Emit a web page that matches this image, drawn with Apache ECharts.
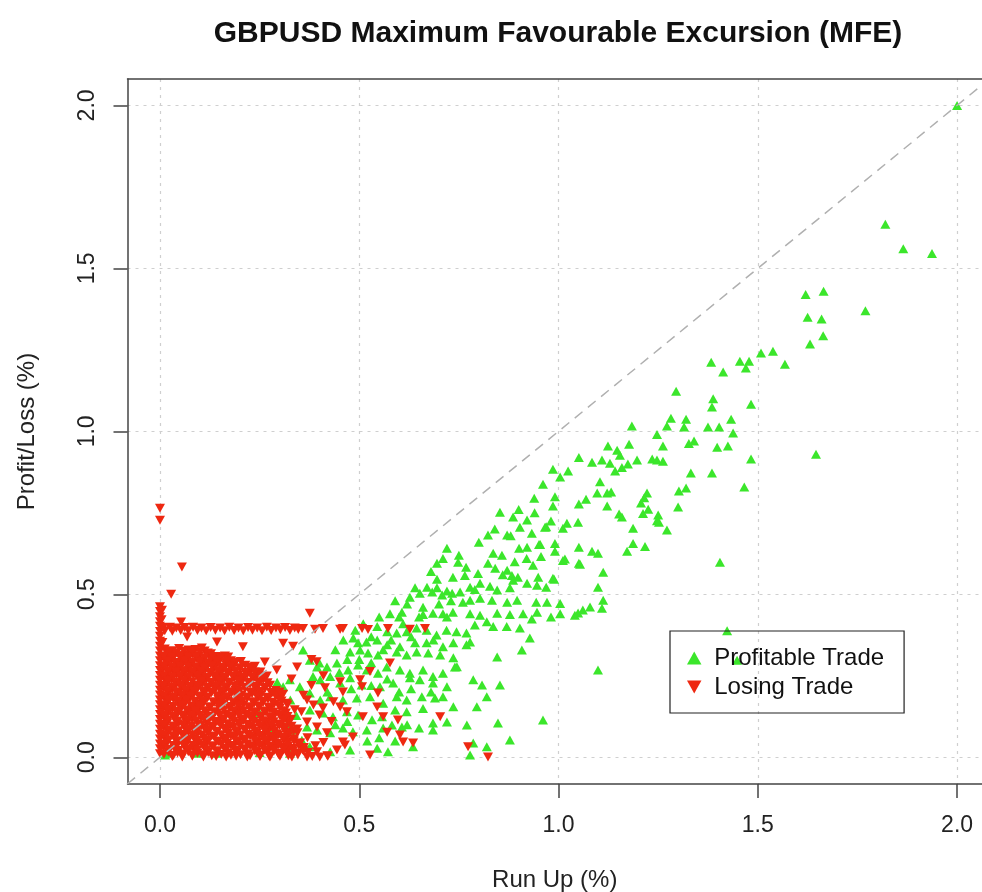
<!DOCTYPE html>
<html>
<head>
<meta charset="utf-8">
<script src="https://cdn.jsdelivr.net/npm/echarts@6.0.0/dist/echarts.min.js"></script>
<style>
html,body{margin:0;padding:0;background:#fff;}
#chart{width:982px;height:892px;}
</style>
</head>
<body>
<div id="chart"></div>
<script>
var chartTitle = 'GBPUSD Maximum Favourable Excursion (MFE)';
var xAxisTitle = 'Run Up (%)';
var yAxisTitle = 'Profit/Loss (%)';
var seriesNames = ['Profitable Trade', 'Losing Trade'];
var tickValues = [0, 0.5, 1, 1.5, 2];
var tickLabels = ['0.0', '0.5', '1.0', '1.5', '2.0'];
var xRange = [-0.0815, 2.0625];
var yRange = [-0.082, 2.081];
var diagonal = [[-0.082, -0.082], [2.0625, 2.0625]];

// Profitable trades: [run up %, profit %]
var profitable = [
[2.0,2.0],[1.82,1.635],[1.865,1.56],[1.937,1.546],[1.62,1.42],[1.665,1.43],[1.77,1.37],[1.625,1.35],[1.66,1.345],[1.664,1.293],
[1.631,1.268],[1.508,1.24],[1.538,1.246],[1.568,1.206],[1.383,1.212],[1.413,1.182],[1.455,1.215],[1.478,1.215],[1.47,1.194],[1.295,1.123],
[1.388,1.10],[1.385,1.075],[1.483,1.083],[1.282,1.04],[1.32,1.037],[1.272,1.016],[1.315,1.013],[1.375,1.013],[1.403,1.013],[1.433,1.037],
[1.438,0.995],[1.184,1.016],[1.247,0.99],[1.177,0.96],[1.262,0.955],[1.327,0.963],[1.34,0.97],[1.398,0.951],[1.425,0.955],[1.483,0.915],
[1.646,0.93],[1.124,0.955],[1.147,0.942],[1.154,0.927],[1.051,0.92],[1.084,0.905],[1.109,0.912],[1.129,0.902],[1.174,0.9],[1.197,0.912],
[1.235,0.915],[1.247,0.912],[1.262,0.908],[1.332,0.872],[1.385,0.872],[1.142,0.878],[0.986,0.884],[1.024,0.878],[1.004,0.86],[1.159,0.889],
[0.961,0.838],[0.939,0.795],[1.104,0.845],[1.097,0.811],[1.122,0.811],[1.132,0.814],[1.222,0.811],[1.215,0.796],[1.207,0.78],[1.302,0.817],
[1.32,0.826],[1.466,0.829],[0.991,0.799],[0.986,0.771],[1.069,0.792],[1.051,0.777],[1.122,0.771],[1.225,0.761],[1.25,0.743],[1.3,0.768],
[1.212,0.748],[1.152,0.746],[1.159,0.737],[1.252,0.721],[1.272,0.697],[1.187,0.703],[0.981,0.725],[0.969,0.707],[1.021,0.718],[1.049,0.721],
[1.011,0.703],[0.933,0.687],[0.954,0.653],[0.991,0.656],[0.991,0.632],[1.051,0.644],[1.084,0.632],[1.099,0.626],[1.187,0.656],[1.172,0.632],
[1.217,0.647],[0.956,0.616],[1.011,0.604],[1.051,0.595],[0.936,0.589],[0.949,0.552],[1.405,0.598],[1.112,0.568],[1.099,0.522],[0.969,0.522],
[0.989,0.546],[1.112,0.482],[1.109,0.457],[1.004,0.472],[0.944,0.476],[0.946,0.445],[1.049,0.443],[1.061,0.452],[0.981,0.43],[1.423,0.388],
[0.933,0.424],[1.448,0.298],[1.247,0.726],[0.853,0.752],[0.886,0.737],[0.921,0.728],[0.966,0.706],[0.823,0.682],[0.871,0.682],[0.903,0.706],
[0.72,0.641],[0.901,0.641],[0.921,0.644],[0.951,0.653],[0.836,0.626],[0.858,0.62],[1.016,0.608],[0.695,0.595],[0.748,0.598],[0.768,0.583],
[0.823,0.595],[0.841,0.58],[0.871,0.574],[0.883,0.558],[0.886,0.543],[0.898,0.552],[1.054,0.592],[0.798,0.564],[0.765,0.558],[0.735,0.552],
[0.695,0.546],[0.67,0.522],[0.72,0.51],[0.753,0.507],[0.778,0.522],[0.803,0.534],[0.828,0.525],[0.846,0.513],[0.921,0.534],[0.946,0.528],
[0.986,0.549],[0.627,0.491],[0.652,0.503],[0.683,0.507],[0.708,0.498],[0.733,0.503],[0.76,0.476],[0.778,0.482],[0.803,0.488],[0.833,0.482],
[0.871,0.476],[0.896,0.482],[0.971,0.476],[1.079,0.461],[0.577,0.44],[0.607,0.445],[0.66,0.438],[0.685,0.442],[0.71,0.44],[0.735,0.445],
[0.778,0.44],[0.803,0.436],[0.846,0.442],[0.878,0.438],[0.911,0.44],[1.004,0.44],[1.041,0.436],[0.695,0.52],[0.79,0.515],[0.878,0.52],
[0.6,0.43],[0.72,0.43],[0.545,0.401],[0.57,0.385],[0.594,0.381],[0.619,0.385],[0.644,0.397],[0.669,0.39],[0.694,0.375],[0.719,0.39],
[0.744,0.385],[0.769,0.381],[0.79,0.406],[0.82,0.416],[0.836,0.401],[0.87,0.401],[0.903,0.397],[0.928,0.366],[0.485,0.366],[0.497,0.351],
[0.518,0.354],[0.545,0.36],[0.57,0.345],[0.602,0.339],[0.64,0.351],[0.669,0.351],[0.686,0.36],[0.71,0.339],[0.736,0.351],[0.769,0.345],
[0.778,0.354],[0.477,0.323],[0.502,0.329],[0.522,0.32],[0.547,0.314],[0.594,0.323],[0.619,0.314],[0.644,0.323],[0.673,0.32],[0.703,0.314],
[0.736,0.305],[0.745,0.278],[0.846,0.308],[0.908,0.329],[0.359,0.329],[0.419,0.277],[0.444,0.289],[0.472,0.268],[0.497,0.283],[0.519,0.268],
[0.547,0.258],[0.569,0.277],[0.602,0.268],[0.627,0.258],[0.66,0.268],[0.685,0.248],[0.71,0.258],[0.74,0.277],[0.384,0.248],[0.402,0.238],
[0.427,0.248],[0.452,0.228],[0.477,0.244],[0.506,0.222],[0.552,0.216],[0.585,0.228],[0.627,0.244],[0.652,0.238],[0.685,0.228],[0.72,0.216],
[0.786,0.238],[0.808,0.222],[0.853,0.222],[0.961,0.114],[0.351,0.216],[0.376,0.197],[0.402,0.176],[0.427,0.186],[0.459,0.176],[0.494,0.182],
[0.527,0.186],[0.56,0.166],[0.594,0.186],[0.619,0.176],[0.657,0.186],[0.69,0.182],[0.71,0.186],[0.736,0.155],[0.795,0.155],[0.82,0.186],
[0.376,0.145],[0.409,0.136],[0.434,0.124],[0.469,0.14],[0.497,0.13],[0.532,0.115],[0.557,0.124],[0.59,0.145],[0.619,0.14],[0.685,0.105],
[0.72,0.108],[0.77,0.099],[0.848,0.105],[0.369,0.093],[0.394,0.084],[0.427,0.075],[0.459,0.09],[0.484,0.078],[0.519,0.084],[0.56,0.09],
[0.582,0.099],[0.607,0.093],[0.685,0.084],[0.786,0.044],[0.82,0.032],[0.878,0.053],[0.376,0.032],[0.427,0.017],[0.477,0.022],[0.545,0.028],
[0.572,0.017],[0.635,0.032],[0.778,0.007],[1.099,0.268],[0.013,0.007],[0.093,0.012],[0.143,0.012],[0.25,0.135],[0.268,0.104],[0.284,0.083],
[0.309,0.216],[0.326,0.238],[0.376,0.298],[0.394,0.277],[0.4,0.289],[0.25,0.015],[0.326,0.012],[0.327,0.176],[0.294,0.23],[0.342,0.128],
[0.318,0.098],[0.334,0.064],[0.356,0.052],[0.33,0.084],[0.018,0.012],
[0.46,0.36],[0.49,0.39],[0.51,0.41],[0.53,0.37],[0.55,0.43],[0.47,0.3],[0.5,0.3],[0.53,0.29],[0.56,0.33],[0.58,0.36],
[0.61,0.41],[0.63,0.37],[0.65,0.43],[0.44,0.33],[0.42,0.2],[0.45,0.26],[0.48,0.21],[0.53,0.22],[0.57,0.24],[0.6,0.2],
[0.63,0.21],[0.66,0.15],[0.68,0.2],[0.44,0.1],[0.47,0.11],[0.52,0.05],[0.55,0.06],[0.59,0.05],[0.62,0.1],[0.65,0.09],
[0.7,0.47],[0.73,0.48],[0.66,0.46],[0.62,0.47],[0.59,0.48],[0.64,0.52],[0.68,0.57],[0.71,0.61],[0.75,0.62],[0.8,0.66],
[0.84,0.7],[0.88,0.68],[0.9,0.76],[0.94,0.75],[0.92,0.61],[0.89,0.6],[0.86,0.56]
];

// Losing trades: [run up %, loss %]
var losing = [
[0,0.764],[0,0.727],[0.055,0.584],[0.028,0.5],[0.053,0.415],[0.376,0.442],[0.068,0.369],[0.143,0.354],[0.208,0.339],[0.105,0.335],
[0.309,0.35],[0.334,0.341],[0.171,0.308],[0.263,0.292],[0.293,0.268],[0.344,0.277],
[0,0.462],[0,0.447],[0,0.431],[0,0.416],[0,0.402],[0,0.386],[0,0.371],[0,0.356],[0,0.341],[0,0.326],[0,0.311],[0,0.296],[0,0.281],
[0,0.266],[0,0.251],[0,0.236],[0,0.221],[0,0.206],[0,0.191],[0,0.176],[0,0.161],[0,0.146],[0,0.131],[0,0.116],[0,0.101],[0,0.086],
[0,0.071],[0,0.056],[0,0.041],[0,0.026],[0,0.011],[0.005,0.451],[0.006,0.352],[0.004,0.422],
[0.008,0.398],[0.012,0.388],[0.025,0.399],[0.031,0.387],[0.041,0.397],[0.052,0.389],[0.062,0.398],[0.071,0.388],[0.083,0.399],[0.094,0.389],
[0.104,0.397],[0.116,0.388],[0.127,0.398],[0.139,0.39],[0.151,0.397],[0.162,0.388],[0.174,0.399],[0.186,0.389],[0.197,0.397],[0.209,0.388],
[0.221,0.398],[0.232,0.39],[0.244,0.397],[0.256,0.388],[0.268,0.399],[0.279,0.389],[0.291,0.397],[0.302,0.391],[0.314,0.398],[0.326,0.389],
[0.338,0.397],[0.347,0.392],[0.359,0.395],[0.389,0.393],[0.409,0.395],[0.452,0.393],[0.459,0.395],[0.507,0.395],[0.522,0.392],[0.572,0.395],
[0.627,0.393],[0.665,0.395],
[0.012,0.332],[0.031,0.327],[0.048,0.334],[0.071,0.329],[0.089,0.331],[0.112,0.326],[0.128,0.318],
[0.021,0.314],[0.039,0.318],[0.062,0.312],[0.081,0.316],[0.098,0.311],[0.122,0.313],[0.141,0.309],[0.163,0.311],
[0.011,0.301],[0.029,0.297],[0.052,0.302],[0.068,0.298],[0.091,0.303],[0.109,0.296],[0.131,0.299],[0.152,0.301],[0.178,0.296],[0.203,0.294],
[0.019,0.286],[0.042,0.283],[0.058,0.288],[0.079,0.284],[0.102,0.286],[0.118,0.281],[0.142,0.285],[0.166,0.283],[0.188,0.287],[0.214,0.282],[0.238,0.279],
[0.008,0.271],[0.032,0.268],[0.049,0.272],[0.072,0.266],[0.091,0.27],[0.114,0.268],[0.136,0.273],[0.157,0.267],[0.179,0.269],[0.201,0.271],[0.228,0.266],[0.252,0.262],
[0.022,0.256],[0.041,0.253],[0.061,0.257],[0.084,0.252],[0.104,0.255],[0.127,0.258],[0.149,0.253],[0.171,0.256],[0.196,0.251],[0.219,0.255],[0.243,0.252],[0.268,0.249],
[0.011,0.241],[0.029,0.238],[0.051,0.243],[0.069,0.239],[0.096,0.242],[0.116,0.237],[0.139,0.241],[0.161,0.238],[0.186,0.242],[0.208,0.236],[0.234,0.24],[0.259,0.237],
[0.018,0.226],[0.041,0.223],[0.064,0.227],[0.086,0.222],[0.106,0.225],[0.129,0.228],[0.151,0.223],[0.174,0.226],[0.199,0.221],[0.226,0.224],[0.249,0.227],[0.276,0.221],
[0.009,0.211],[0.031,0.208],[0.054,0.212],[0.076,0.207],[0.094,0.21],[0.121,0.213],[0.139,0.208],[0.166,0.211],[0.189,0.206],[0.214,0.21],[0.241,0.208],[0.264,0.212],[0.291,0.205],
[0.021,0.196],[0.044,0.193],[0.066,0.197],[0.084,0.192],[0.111,0.195],[0.129,0.198],[0.156,0.193],[0.179,0.196],[0.204,0.191],[0.231,0.195],[0.254,0.192],[0.281,0.197],[0.309,0.193],
[0.012,0.181],[0.034,0.178],[0.056,0.182],[0.074,0.177],[0.101,0.18],[0.119,0.183],[0.146,0.178],[0.169,0.181],[0.196,0.176],[0.219,0.18],[0.246,0.183],[0.271,0.178],[0.298,0.181],
[0.019,0.166],[0.046,0.163],[0.064,0.167],[0.091,0.162],[0.109,0.165],[0.136,0.168],[0.159,0.163],[0.186,0.166],[0.209,0.161],[0.236,0.165],[0.259,0.168],[0.286,0.162],[0.318,0.166],
[0.008,0.151],[0.031,0.148],[0.054,0.152],[0.081,0.147],[0.099,0.15],[0.126,0.153],[0.149,0.148],[0.176,0.151],[0.199,0.146],[0.226,0.15],[0.249,0.153],[0.276,0.148],[0.301,0.151],[0.338,0.146],
[0.021,0.136],[0.044,0.133],[0.071,0.137],[0.089,0.132],[0.116,0.135],[0.139,0.138],[0.166,0.133],[0.189,0.136],[0.216,0.131],[0.239,0.135],[0.266,0.138],[0.289,0.132],[0.316,0.136],
[0.011,0.121],[0.036,0.118],[0.059,0.122],[0.081,0.117],[0.104,0.12],[0.131,0.123],[0.154,0.118],[0.181,0.121],[0.204,0.116],[0.231,0.12],[0.254,0.123],[0.281,0.118],[0.306,0.121],[0.329,0.117],
[0.019,0.106],[0.046,0.103],[0.069,0.107],[0.096,0.102],[0.119,0.105],[0.146,0.108],[0.169,0.103],[0.196,0.106],[0.219,0.101],[0.246,0.105],[0.269,0.108],[0.296,0.102],[0.321,0.106],
[0.009,0.091],[0.034,0.088],[0.061,0.092],[0.084,0.087],[0.111,0.09],[0.134,0.093],[0.161,0.088],[0.184,0.091],[0.211,0.086],[0.234,0.09],[0.261,0.093],[0.284,0.088],[0.311,0.091],[0.344,0.087],
[0.021,0.076],[0.044,0.073],[0.071,0.077],[0.094,0.072],[0.121,0.075],[0.144,0.078],[0.171,0.073],[0.194,0.076],[0.221,0.071],[0.244,0.075],[0.271,0.078],[0.294,0.072],[0.321,0.076],
[0.011,0.061],[0.036,0.058],[0.059,0.062],[0.086,0.057],[0.109,0.06],[0.136,0.063],[0.159,0.058],[0.186,0.061],[0.209,0.056],[0.236,0.06],[0.259,0.063],[0.286,0.058],[0.309,0.061],[0.336,0.057],
[0.019,0.046],[0.046,0.043],[0.069,0.047],[0.096,0.042],[0.119,0.045],[0.146,0.048],[0.169,0.043],[0.196,0.046],[0.219,0.041],[0.246,0.045],[0.271,0.048],[0.294,0.042],[0.321,0.046],[0.351,0.043],
[0.009,0.031],[0.036,0.028],[0.061,0.032],[0.084,0.027],[0.111,0.03],[0.134,0.033],[0.161,0.028],[0.184,0.031],[0.211,0.026],[0.236,0.03],[0.259,0.033],[0.286,0.028],[0.309,0.031],[0.334,0.027],[0.361,0.03],
[0.021,0.016],[0.044,0.013],[0.071,0.017],[0.094,0.012],[0.121,0.015],[0.144,0.018],[0.171,0.013],[0.194,0.016],[0.221,0.011],[0.244,0.015],[0.271,0.018],[0.296,0.012],[0.319,0.016],[0.346,0.013],[0.371,0.015],
[0.031,0.002],[0.056,0.001],[0.081,0.003],[0.109,0.001],[0.141,0.002],[0.166,0.001],[0.191,0.003],[0.219,0.001],[0.251,0.002],[0.276,0.001],[0.301,0.003],[0.331,0.001],[0.382,0.002],[0.401,0.001],[0.421,0.003],
[0.022,0.324],[0.041,0.321],[0.06,0.325],[0.08,0.322],[0.1,0.323],[0.12,0.32],
[0.01,0.309],[0.03,0.306],[0.05,0.31],[0.072,0.307],[0.09,0.308],[0.111,0.305],[0.132,0.309],[0.152,0.306],
[0.02,0.294],[0.04,0.291],[0.063,0.295],[0.081,0.292],[0.1,0.293],[0.121,0.29],[0.142,0.294],[0.165,0.291],[0.19,0.292],
[0.01,0.279],[0.031,0.276],[0.05,0.28],[0.07,0.277],[0.09,0.278],[0.111,0.275],[0.13,0.279],[0.154,0.276],[0.177,0.278],[0.2,0.275],[0.226,0.277],
[0.02,0.264],[0.04,0.261],[0.061,0.265],[0.082,0.262],[0.103,0.263],[0.125,0.26],[0.146,0.264],[0.168,0.261],[0.19,0.263],[0.213,0.26],[0.238,0.262],
[0.01,0.249],[0.031,0.246],[0.051,0.25],[0.073,0.247],[0.094,0.248],[0.116,0.245],[0.138,0.249],[0.16,0.246],[0.183,0.248],[0.207,0.245],[0.231,0.247],[0.256,0.244],
[0.02,0.234],[0.04,0.231],[0.06,0.235],[0.081,0.232],[0.105,0.233],[0.127,0.23],[0.15,0.234],[0.173,0.231],[0.197,0.233],[0.221,0.23],[0.246,0.232],[0.27,0.229],
[0.008,0.219],[0.03,0.216],[0.052,0.22],[0.075,0.217],[0.096,0.218],[0.118,0.215],[0.14,0.219],[0.163,0.216],[0.187,0.218],[0.212,0.215],[0.237,0.217],[0.262,0.214],
[0.02,0.204],[0.042,0.201],[0.065,0.205],[0.086,0.202],[0.108,0.203],[0.13,0.2],[0.153,0.204],[0.177,0.201],[0.2,0.203],[0.226,0.2],[0.252,0.202],[0.278,0.199],
[0.01,0.189],[0.033,0.186],[0.055,0.19],[0.076,0.187],[0.098,0.188],[0.12,0.185],[0.143,0.189],[0.167,0.186],[0.192,0.188],[0.217,0.185],[0.243,0.187],[0.268,0.184],[0.29,0.188],
[0.022,0.174],[0.044,0.171],[0.066,0.175],[0.088,0.172],[0.11,0.173],[0.133,0.17],[0.157,0.174],[0.182,0.171],[0.207,0.173],[0.232,0.17],[0.257,0.172],[0.283,0.169],[0.305,0.173],
[0.01,0.159],[0.033,0.156],[0.055,0.16],[0.078,0.157],[0.1,0.158],[0.123,0.155],[0.147,0.159],[0.172,0.156],[0.197,0.158],[0.222,0.155],[0.247,0.157],[0.272,0.154],[0.3,0.158],
[0.02,0.144],[0.043,0.141],[0.066,0.145],[0.089,0.142],[0.111,0.143],[0.135,0.14],[0.16,0.144],[0.185,0.141],[0.21,0.143],[0.235,0.14],[0.26,0.142],[0.285,0.139],[0.31,0.143],
[0.01,0.129],[0.033,0.126],[0.056,0.13],[0.079,0.127],[0.101,0.128],[0.125,0.125],[0.15,0.129],[0.175,0.126],[0.2,0.128],[0.225,0.125],[0.25,0.127],[0.275,0.124],[0.3,0.128],[0.32,0.125],
[0.02,0.114],[0.044,0.111],[0.068,0.115],[0.091,0.112],[0.114,0.113],[0.137,0.11],[0.16,0.114],[0.185,0.111],[0.21,0.113],[0.235,0.11],[0.26,0.112],[0.285,0.109],[0.31,0.113],
[0.01,0.099],[0.033,0.096],[0.057,0.1],[0.08,0.097],[0.104,0.098],[0.128,0.095],[0.152,0.099],[0.176,0.096],[0.2,0.098],[0.225,0.095],[0.25,0.097],[0.275,0.094],[0.3,0.098],[0.33,0.095],
[0.022,0.084],[0.046,0.081],[0.07,0.085],[0.094,0.082],[0.118,0.083],[0.142,0.08],[0.166,0.084],[0.19,0.081],[0.214,0.083],[0.238,0.08],[0.262,0.082],[0.287,0.079],[0.312,0.083],[0.335,0.08],
[0.01,0.069],[0.034,0.066],[0.058,0.07],[0.082,0.067],[0.106,0.068],[0.13,0.065],[0.154,0.069],[0.178,0.066],[0.202,0.068],[0.226,0.065],[0.25,0.067],[0.274,0.064],[0.298,0.068],[0.322,0.065],
[0.022,0.054],[0.046,0.051],[0.07,0.055],[0.094,0.052],[0.118,0.053],[0.142,0.05],[0.166,0.054],[0.19,0.051],[0.214,0.053],[0.238,0.05],[0.262,0.052],[0.286,0.049],[0.31,0.053],[0.336,0.05],
[0.01,0.039],[0.034,0.036],[0.058,0.04],[0.082,0.037],[0.106,0.038],[0.13,0.035],[0.154,0.039],[0.178,0.036],[0.202,0.038],[0.226,0.035],[0.25,0.037],[0.274,0.034],[0.298,0.038],[0.322,0.035],[0.348,0.037],
[0.022,0.024],[0.046,0.021],[0.07,0.025],[0.094,0.022],[0.118,0.023],[0.142,0.02],[0.166,0.024],[0.19,0.021],[0.214,0.023],[0.238,0.02],[0.262,0.022],[0.286,0.019],[0.31,0.023],[0.334,0.02],[0.358,0.022],
[0.01,0.009],[0.034,0.006],[0.058,0.01],[0.082,0.007],[0.106,0.008],[0.13,0.005],[0.154,0.009],[0.178,0.006],[0.202,0.008],[0.226,0.005],[0.25,0.007],[0.274,0.004],[0.298,0.008],[0.322,0.005],[0.346,0.007],
[0.38,0.3],[0.393,0.293],[0.527,0.263],[0.577,0.289],[0.452,0.232],[0.502,0.238],[0.507,0.216],[0.414,0.213],[0.459,0.2],[0.547,0.197],
[0.369,0.176],[0.409,0.151],[0.452,0.154],[0.469,0.14],[0.545,0.154],[0.509,0.124],[0.56,0.124],[0.597,0.114],[0.703,0.124],[0.57,0.077],
[0.602,0.068],[0.61,0.047],[0.635,0.044],[0.369,0.108],[0.394,0.093],[0.419,0.075],[0.459,0.047],[0.484,0.062],[0.351,0.044],[0.369,0.001],
[0.394,0.017],[0.444,0.022],[0.464,0.038],[0.527,0.007],[0.773,0.032],[0.823,0.001],
[0.36,0.19],[0.385,0.16],[0.4,0.13],[0.37,0.06],[0.41,0.045],[0.43,0.11],[0.355,0.14],[0.39,0.035],[0.42,0.005],[0.345,0.075],
[0.36,0.02],[0.435,0.17],[0.38,0.22],[0.41,0.25],[0.3,0.2],[0.32,0.16],[0.33,0.24],[0.31,0.06],[0.28,0.1]
];

var GREEN = '#3be62b';
var RED = '#ee2811';
var UP = 'path://M5,0L10,9L0,9Z';
var DOWN = 'path://M0,0L10,0L5,9Z';
var FONT = 'Liberation Sans, Arial, Helvetica, sans-serif';
var AXIS_COLOR = '#444';

var chart = echarts.init(document.getElementById('chart'), null, {renderer: 'canvas'});

function labelFormatter(v) {
  for (var i = 0; i < tickValues.length; i++) {
    if (Math.abs(tickValues[i] - v) < 1e-9) return tickLabels[i];
  }
  return '';
}

function mainAxis(isX) {
  return {
    type: 'value',
    position: isX ? 'bottom' : 'left',
    min: isX ? xRange[0] : yRange[0],
    max: isX ? xRange[1] : yRange[1],
    axisLine: {show: true, onZero: false, lineStyle: {color: AXIS_COLOR, width: 1.5}},
    axisTick: {
      show: true, length: 14, customValues: tickValues,
      lineStyle: {color: AXIS_COLOR, width: 1.5}
    },
    axisLabel: {
      customValues: tickValues,
      fontSize: 23, color: '#222', fontFamily: FONT,
      margin: isX ? 30 : 28,
      rotate: isX ? 0 : 90,
      formatter: labelFormatter
    },
    splitLine: {
      show: true,
      lineStyle: {color: '#cfcfcf', width: 1.2, type: [3, 5]}
    },
    name: isX ? xAxisTitle : yAxisTitle,
    nameLocation: 'middle',
    nameGap: isX ? 84 : 88,
    nameTextStyle: {fontSize: 24, color: '#222', fontFamily: FONT}
  };
}

var topAxis = {
  type: 'value',
  position: 'top',
  min: xRange[0],
  max: xRange[1],
  axisLine: {show: true, onZero: false, lineStyle: {color: AXIS_COLOR, width: 1.5}},
  axisTick: {show: false},
  axisLabel: {show: false},
  splitLine: {show: false}
};

chart.setOption({
  animation: false,
  backgroundColor: '#ffffff',
  title: {
    text: chartTitle,
    left: 553,
    top: 14,
    textAlign: 'center',
    textStyle: {fontSize: 30, fontWeight: 'bold', color: '#111', fontFamily: FONT}
  },
  grid: {
    left: 127.5, right: 0, top: 79, bottom: 108,
    show: false,
    outerBoundsMode: 'none'
  },
  xAxis: [mainAxis(true), topAxis],
  yAxis: mainAxis(false),
  legend: {
    orient: 'vertical',
    left: 670, top: 631,
    padding: [12.5, 20, 11.5, 17],
    itemGap: 0,
    itemWidth: 30, itemHeight: 13,
    borderColor: '#222', borderWidth: 1.2,
    backgroundColor: 'transparent',
    selectedMode: false,
    textStyle: {fontSize: 24, color: '#111', fontFamily: FONT, lineHeight: 29},
    data: [
      {name: seriesNames[0], icon: UP, itemStyle: {color: GREEN}},
      {name: seriesNames[1], icon: DOWN, itemStyle: {color: RED}}
    ]
  },
  series: [
    {
      name: seriesNames[0], type: 'scatter', data: profitable,
      symbol: UP, symbolSize: [10, 9],
      itemStyle: {color: GREEN, opacity: 1}, z: 2, silent: true
    },
    {
      name: seriesNames[1], type: 'scatter', data: losing,
      symbol: DOWN, symbolSize: [10, 9],
      itemStyle: {color: RED, opacity: 1}, z: 3, silent: true
    },
    {
      name: 'diag', type: 'line', data: diagonal,
      symbol: 'none', silent: true, z: 4,
      lineStyle: {color: '#b0b0b0', width: 1.5, type: [10, 7]}
    }
  ]
});
</script>
</body>
</html>
